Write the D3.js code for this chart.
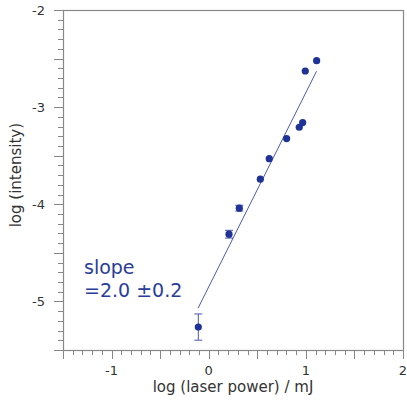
<!DOCTYPE html>
<html>
<head>
<meta charset="utf-8">
<script src="https://cdn.jsdelivr.net/npm/d3@7"></script>
<style>
  body { margin: 0; background: #fff; }
  svg { display: block; font-family: "DejaVu Sans", sans-serif; }
</style>
</head>
<body>
<div id="chart"></div>
<script>
// measured points: log(laser power) vs log(intensity)
const logPower = [-0.107, 0.209, 0.315, 0.531, 0.623, 0.802, 0.932, 0.967, 0.994, 1.111];
const logIntensity = [-5.264, -4.308, -4.040, -3.742, -3.530, -3.324, -3.207, -3.159, -2.628, -2.522];
const errIntensity = [0.135, 0.04, 0.03, 0, 0, 0, 0, 0, 0, 0];

// linear fit
const fitSlope = 2.0;
const fitIntercept = -4.85;
const fitRange = [-0.11, 1.11];

const xTickLabels = [-1, 0, 1, 2];
const yTickLabels = [-5, -4, -3, -2];

const width = 407, height = 403;
const margin = { left: 63, right: 4, top: 10, bottom: 53 };

const x = d3.scaleLinear().domain([-1.5, 2]).range([margin.left, width - margin.right]);
const y = d3.scaleLinear().domain([-5.5, -2]).range([height - margin.bottom, margin.top]);

const svg = d3.select('#chart').append('svg')
  .attr('width', width)
  .attr('height', height);

const axisColor = '#888';
const labelColor = '#333';
const pointColor = '#1f3397';

// frame (top + right)
svg.append('rect')
  .attr('x', x(-1.5) + 0.5)
  .attr('y', y(-2) + 0.5)
  .attr('width', x(2) - x(-1.5))
  .attr('height', y(-5.5) - y(-2))
  .attr('fill', 'none')
  .attr('stroke', axisColor)
  .attr('stroke-width', 1.2);

// ticks: minor every 0.1, major every 0.5
const xTicks = d3.range(-15, 21).map(i => i / 10);
const yTicks = d3.range(-55, -19).map(i => i / 10);
const isMajor = v => Math.abs(v * 2 - Math.round(v * 2)) < 1e-6;

svg.append('g').selectAll('line')
  .data(xTicks)
  .enter().append('line')
  .attr('x1', d => Math.round(x(d)) + 0.5)
  .attr('x2', d => Math.round(x(d)) + 0.5)
  .attr('y1', y(-5.5))
  .attr('y2', d => y(-5.5) + (isMajor(d) ? 9 : 5))
  .attr('stroke', axisColor)
  .attr('stroke-width', 1);

svg.append('g').selectAll('line')
  .data(yTicks)
  .enter().append('line')
  .attr('y1', d => Math.round(y(d)) + 0.5)
  .attr('y2', d => Math.round(y(d)) + 0.5)
  .attr('x1', x(-1.5))
  .attr('x2', d => x(-1.5) - (isMajor(d) ? 9 : 5))
  .attr('stroke', axisColor)
  .attr('stroke-width', 1);

// tick labels
svg.append('g').selectAll('text')
  .data(xTickLabels)
  .enter().append('text')
  .attr('x', d => x(d))
  .attr('y', y(-5.5) + 25)
  .attr('text-anchor', 'middle')
  .attr('font-size', 13)
  .attr('fill', labelColor)
  .text(d => d);

svg.append('g').selectAll('text')
  .data(yTickLabels)
  .enter().append('text')
  .attr('x', x(-1.5) - 18)
  .attr('y', d => y(d) + 5)
  .attr('text-anchor', 'end')
  .attr('font-size', 13)
  .attr('fill', labelColor)
  .text(d => d);

// axis titles
svg.append('text')
  .attr('x', x(0.25))
  .attr('y', 392)
  .attr('text-anchor', 'middle')
  .attr('font-size', 15)
  .attr('fill', labelColor)
  .text('log (laser power) / mJ');

svg.append('text')
  .attr('transform', `translate(21,${y(-3.7)}) rotate(-90)`)
  .attr('text-anchor', 'middle')
  .attr('font-size', 15)
  .attr('fill', labelColor)
  .text('log (intensity)');

// fit line
svg.append('line')
  .attr('x1', x(fitRange[0]))
  .attr('y1', y(fitSlope * fitRange[0] + fitIntercept))
  .attr('x2', x(fitRange[1]))
  .attr('y2', y(fitSlope * fitRange[1] + fitIntercept))
  .attr('stroke', '#4a58b0')
  .attr('stroke-width', 1);

const points = logPower.map((v, i) => ({ x: v, y: logIntensity[i], e: errIntensity[i] }));

// error bars
const eb = svg.append('g').attr('stroke', '#4a58b0').attr('stroke-width', 1);
points.filter(d => d.e > 0).forEach(d => {
  eb.append('line')
    .attr('x1', x(d.x)).attr('x2', x(d.x))
    .attr('y1', y(d.y - d.e)).attr('y2', y(d.y + d.e));
  [d.y - d.e, d.y + d.e].forEach(v => {
    eb.append('line')
      .attr('x1', x(d.x) - 4).attr('x2', x(d.x) + 4)
      .attr('y1', y(v)).attr('y2', y(v));
  });
});

svg.append('g').selectAll('circle')
  .data(points)
  .enter().append('circle')
  .attr('cx', d => x(d.x))
  .attr('cy', d => y(d.y))
  .attr('r', 3.6)
  .attr('fill', pointColor);

// annotation
const note = svg.append('text')
  .attr('font-size', 19)
  .attr('fill', '#2a3d9a');
note.append('tspan').attr('x', 84).attr('y', 274).text('slope');
note.append('tspan').attr('x', 84).attr('y', 297).text('=2.0 ±0.2');
</script>
</body>
</html>
